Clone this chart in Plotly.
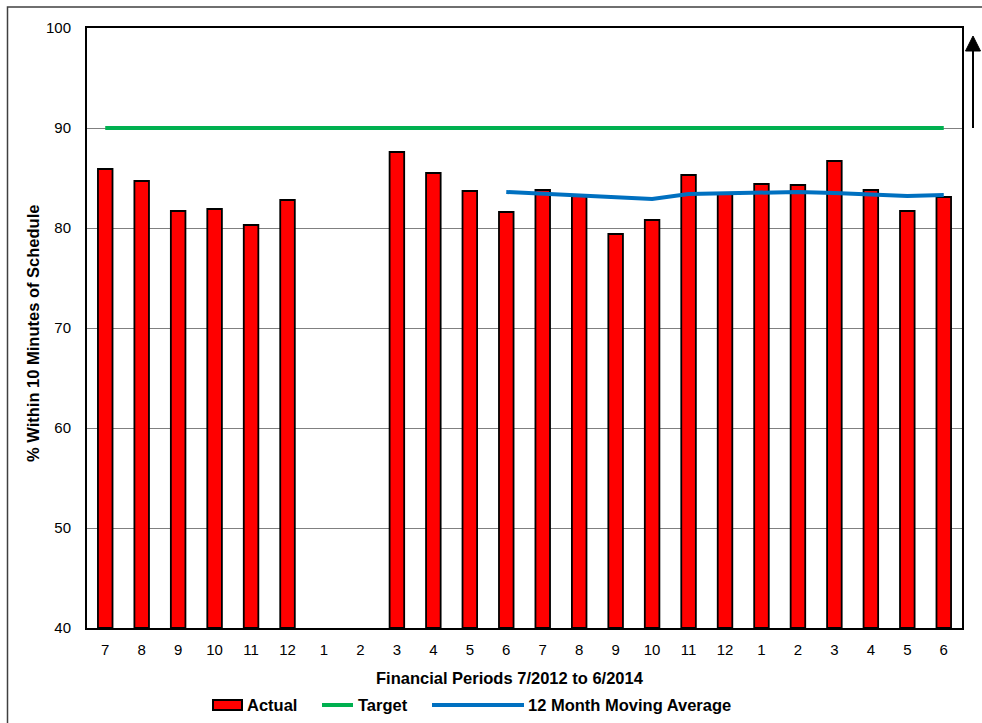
import plotly.graph_objects as go

# Financial periods 7/2012 .. 6/2014
periods = ["7", "8", "9", "10", "11", "12", "1", "2", "3", "4", "5", "6",
           "7", "8", "9", "10", "11", "12", "1", "2", "3", "4", "5", "6"]
actual = [85.9, 84.7, 81.7, 81.9, 80.3, 82.8, None, None, 87.6, 85.5, 83.7, 81.6,
          83.8, 83.2, 79.4, 80.8, 85.3, 83.4, 84.4, 84.3, 86.7, 83.8, 81.7, 83.1]
target = [90.0] * 24
moving_avg = [None] * 11 + [83.6, 83.4, 83.2, 83.0, 82.9, 83.4, 83.5, 83.6, 83.6,
                            83.5, 83.4, 83.2, 83.3]
y_ticks = [40, 50, 60, 70, 80, 90, 100]

RED, GREEN, BLUE = "#FF0000", "#00B050", "#0070C0"
x = list(range(len(periods)))
FONT = "Liberation Sans, Arial, sans-serif"

# plot-area geometry in pixels (used for the frame, arrow and legend keys)
W, H = 982, 723
L, R, T, B = 87, 20, 28, 95
PW, PH = W - L - R, H - T - B


def px(xp):
    return (xp - L) / PW


def py(yp):
    return (H - B - yp) / PH


fig = go.Figure()
fig.add_trace(go.Bar(
    x=x, y=[None if v is None else v - 40 for v in actual], base=40,
    name="Actual", showlegend=False,
    marker=dict(color=RED, line=dict(color="#000000", width=1.8)),
))
fig.add_trace(go.Scatter(
    x=x, y=target, name="Target", mode="lines", showlegend=False,
    line=dict(color=GREEN, width=4),
))
fig.add_trace(go.Scatter(
    x=x, y=moving_avg, name="12 Month Moving Average", mode="lines",
    showlegend=False, line=dict(color=BLUE, width=4),
))

fig.update_layout(
    width=W, height=H,
    margin=dict(l=L, r=R, t=T, b=B, autoexpand=False),
    paper_bgcolor="white", plot_bgcolor="white",
    font=dict(family=FONT, size=15, color="#000000"),
    bargap=0.6,
    showlegend=False,
    xaxis=dict(
        range=[-0.5, 23.5], tickmode="array", tickvals=x, ticktext=periods,
        showgrid=False, zeroline=False, ticks="", automargin=False,
        showline=True, linecolor="#000000", linewidth=2, mirror=True,
        tickfont=dict(family=FONT, size=15), ticklabelstandoff=7,
    ),
    yaxis=dict(
        range=[40, 100], tickmode="array", tickvals=y_ticks, automargin=False,
        showgrid=True, gridcolor="#808080", gridwidth=1, zeroline=False, ticks="",
        showline=True, linecolor="#000000", linewidth=2, mirror=True,
        tickfont=dict(family=FONT, size=15), ticklabelstandoff=11,
    ),
)

# Axis titles
fig.add_annotation(xref="paper", yref="paper", x=px(510), y=py(678),
                   text="<b>Financial Periods 7/2012 to 6/2014</b>",
                   showarrow=False, font=dict(family=FONT, size=16.5),
                   xanchor="center", yanchor="middle")
fig.add_annotation(xref="paper", yref="paper", x=px(33), y=py(334),
                   text="<b>% Within 10 Minutes of Schedule</b>", textangle=-90,
                   showarrow=False, font=dict(family=FONT, size=16.5),
                   xanchor="center", yanchor="middle")

# Outer chart frame
fig.add_shape(type="rect", xref="paper", yref="paper",
              x0=px(7.5), x1=px(1000), y0=py(740), y1=py(7),
              line=dict(color="#404040", width=1.5), layer="below")

# Upward arrow beside the plot
fig.add_shape(type="line", xref="paper", yref="paper",
              x0=px(973), x1=px(973), y0=py(128), y1=py(48),
              line=dict(color="#000000", width=2))
fig.add_shape(type="path", xref="paper", yref="paper",
              path=(f"M {px(965.5)} {py(51)} L {px(973)} {py(36)} "
                    f"L {px(980.5)} {py(51)} Z"),
              fillcolor="#000000", line=dict(color="#000000", width=1))

# Legend: keys drawn as shapes, labels as text
LEG_Y = 705
fig.add_shape(type="rect", xref="paper", yref="paper",
              x0=px(213), x1=px(242), y0=py(710), y1=py(700),
              fillcolor=RED, line=dict(color="#000000", width=2))
fig.add_shape(type="line", xref="paper", yref="paper",
              x0=px(322), x1=px(353), y0=py(LEG_Y), y1=py(LEG_Y),
              line=dict(color=GREEN, width=4))
fig.add_shape(type="line", xref="paper", yref="paper",
              x0=px(432), x1=px(524), y0=py(LEG_Y), y1=py(LEG_Y),
              line=dict(color=BLUE, width=4))
for label, left in [("Actual", 245), ("Target", 356), ("12 Month Moving Average", 526)]:
    fig.add_annotation(xref="paper", yref="paper", x=px(left), y=py(LEG_Y),
                       text=f"<b>{label}</b>", showarrow=False,
                       font=dict(family=FONT, size=16.5),
                       xanchor="left", yanchor="middle")

fig.write_html("out.html")
